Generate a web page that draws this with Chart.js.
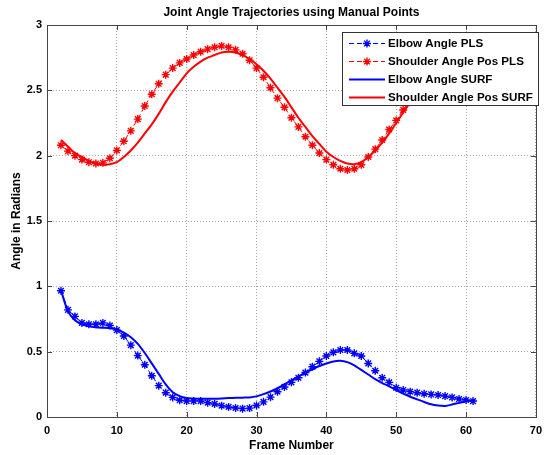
<!DOCTYPE html>
<html>
<head>
<meta charset="utf-8">
<script src="https://cdn.jsdelivr.net/npm/chart.js@4.4.1/dist/chart.umd.min.js"></script>
<style>
    html, body { margin: 0; padding: 0; background: #fff; }
    #wrap { width: 549px; height: 455px; }
</style>
</head>
<body>
<div id="wrap"><canvas id="angleChart" width="549" height="455"></canvas></div>
<script>
// frame numbers shared by all four series
const frames = [2, 3, 4, 5, 6, 7, 8, 9, 10, 11, 12, 13, 14, 15, 16, 17, 18, 19, 20, 21,
    22, 23, 24, 25, 26, 27, 28, 29, 30, 31, 32, 33, 34, 35, 36, 37, 38, 39, 40, 41,
    42, 43, 44, 45, 46, 47, 48, 49, 50, 51, 52, 53, 54, 55, 56, 57, 58, 59, 60, 61];

const elbowPLS = [0.966, 0.82, 0.77, 0.72, 0.71, 0.71, 0.72, 0.70, 0.665, 0.62,
    0.55, 0.47, 0.40, 0.316, 0.24, 0.186, 0.15, 0.128, 0.122, 0.122,
    0.122, 0.11, 0.10, 0.087, 0.077, 0.069, 0.064, 0.068, 0.088, 0.116,
    0.152, 0.193, 0.23, 0.265, 0.30, 0.34, 0.385, 0.426, 0.467, 0.495,
    0.513, 0.513, 0.487, 0.467, 0.41, 0.354, 0.30, 0.265, 0.224, 0.207,
    0.194, 0.186, 0.178, 0.173, 0.168, 0.16, 0.15, 0.138, 0.13, 0.122];

const shoulderPLS = [2.08, 2.035, 2.0, 1.97, 1.95, 1.94, 1.945, 1.98, 2.04, 2.11,
    2.19, 2.28, 2.38, 2.47, 2.55, 2.62, 2.67, 2.71, 2.74, 2.77,
    2.795, 2.815, 2.83, 2.84, 2.83, 2.81, 2.78, 2.73, 2.67, 2.60,
    2.52, 2.44, 2.37, 2.29, 2.22, 2.145, 2.08, 2.02, 1.97, 1.93,
    1.90, 1.89, 1.90, 1.93, 1.99, 2.05, 2.12, 2.20, 2.27, 2.35,
    2.43, 2.51, 2.58, 2.64, 2.69, 2.73, 2.76, 2.78, 2.79, 2.80];

const elbowSURF = [0.97, 0.81, 0.74, 0.71, 0.695, 0.687, 0.683, 0.68, 0.67, 0.645,
    0.61, 0.56, 0.49, 0.41, 0.33, 0.25, 0.19, 0.16, 0.145, 0.142,
    0.14, 0.14, 0.14, 0.142, 0.145, 0.147, 0.148, 0.15, 0.158, 0.175,
    0.195, 0.22, 0.25, 0.28, 0.31, 0.34, 0.365, 0.39, 0.41, 0.425,
    0.43, 0.42, 0.395, 0.36, 0.325, 0.29, 0.26, 0.235, 0.205, 0.18,
    0.155, 0.135, 0.115, 0.097, 0.088, 0.085, 0.095, 0.108, 0.12, 0.125];

const shoulderSURF = [2.12, 2.07, 2.02, 1.99, 1.96, 1.94, 1.93, 1.935, 1.95, 1.99,
    2.04, 2.10, 2.17, 2.24, 2.32, 2.41, 2.49, 2.56, 2.63, 2.68,
    2.72, 2.75, 2.77, 2.79, 2.795, 2.79, 2.77, 2.74, 2.70, 2.65,
    2.59, 2.52, 2.45, 2.37, 2.29, 2.22, 2.15, 2.09, 2.03, 1.99,
    1.96, 1.94, 1.935, 1.95, 1.99, 2.04, 2.10, 2.17, 2.25, 2.33,
    2.41, 2.49, 2.56, 2.62, 2.67, 2.71, 2.74, 2.76, 2.77, 2.78];

const xTicks = [0, 10, 20, 30, 40, 50, 60, 70];
const yTicks = [0, 0.5, 1, 1.5, 2, 2.5, 3];
const yTickLabels = ["0", "0.5", "1", "1.5", "2", "2.5", "3"];

const FONT = "'Liberation Sans', Arial, Helvetica, sans-serif";
const BLUE = "#0000ff";
const RED = "#ff0000";

const toPoints = (vals) => frames.map((f, i) => ({ x: f, y: vals[i] }));

const legendItems = [
    { label: "Elbow Angle PLS", color: BLUE, dashed: true },
    { label: "Shoulder Angle Pos PLS", color: RED, dashed: true },
    { label: "Elbow Angle SURF", color: BLUE, dashed: false },
    { label: "Shoulder Angle Pos SURF", color: RED, dashed: false },
];

function drawStar(ctx, x, y, r, color) {
    ctx.save();
    ctx.strokeStyle = color;
    ctx.lineWidth = 1.4;
    ctx.setLineDash([]);
    ctx.beginPath();
    ctx.moveTo(x - r, y); ctx.lineTo(x + r, y);
    ctx.moveTo(x, y - r); ctx.lineTo(x, y + r);
    const d = r * 0.72;
    ctx.moveTo(x - d, y - d); ctx.lineTo(x + d, y + d);
    ctx.moveTo(x - d, y + d); ctx.lineTo(x + d, y - d);
    ctx.stroke();
    ctx.restore();
}

// box, inward ticks and the matlab-like legend
const matlabFrame = {
    id: "matlabFrame",
    afterDatasetsDraw(chart) {
        const { ctx, chartArea: a, scales } = chart;
        ctx.save();
        ctx.strokeStyle = "#444";
        ctx.lineWidth = 1;
        ctx.setLineDash([]);
        ctx.beginPath();
        xTicks.forEach((t) => {
            const px = Math.round(scales.x.getPixelForValue(t)) + 0.5;
            ctx.moveTo(px, a.bottom); ctx.lineTo(px, a.bottom - 5);
            ctx.moveTo(px, a.top); ctx.lineTo(px, a.top + 5);
        });
        yTicks.forEach((t) => {
            const py = Math.round(scales.y.getPixelForValue(t)) + 0.5;
            ctx.moveTo(a.left, py); ctx.lineTo(a.left + 5, py);
            ctx.moveTo(a.right, py); ctx.lineTo(a.right - 5, py);
        });
        ctx.stroke();
        ctx.strokeRect(Math.round(a.left) + 0.5, Math.round(a.top) + 0.5,
            Math.round(a.right - a.left), Math.round(a.bottom - a.top));

        // legend
        const lx = 342, ly = 32, lw = 196, lh = 73;
        ctx.fillStyle = "#fff";
        ctx.fillRect(lx, ly, lw, lh);
        ctx.strokeStyle = "#333";
        ctx.strokeRect(lx + 0.5, ly + 0.5, lw, lh);
        ctx.font = "bold 11.6px " + FONT;
        ctx.textBaseline = "middle";
        ctx.textAlign = "left";
        legendItems.forEach((item, i) => {
            const y = 43.5 + i * 18;
            ctx.strokeStyle = item.color;
            if (item.dashed) {
                ctx.lineWidth = 1.2;
                ctx.setLineDash([5, 3]);
            } else {
                ctx.lineWidth = 2;
                ctx.setLineDash([]);
            }
            ctx.beginPath();
            ctx.moveTo(349, y); ctx.lineTo(385, y);
            ctx.stroke();
            ctx.setLineDash([]);
            if (item.dashed) {
                drawStar(ctx, 367, y, 4, item.color);
            }
            ctx.fillStyle = "#000";
            ctx.fillText(item.label, 388, y);
        });
        ctx.restore();
    },
};

new Chart(document.getElementById("angleChart"), {
    type: "line",
    data: {
        datasets: [
            {
                label: "Elbow Angle PLS",
                data: toPoints(elbowPLS),
                borderColor: BLUE,
                backgroundColor: BLUE,
                borderWidth: 1,
                borderDash: [5, 3],
                pointStyle: "star",
                pointRadius: 4,
                pointBorderWidth: 1.4,
                pointBorderColor: BLUE,
                order: 2,
            },
            {
                label: "Shoulder Angle Pos PLS",
                data: toPoints(shoulderPLS),
                borderColor: RED,
                backgroundColor: RED,
                borderWidth: 1,
                borderDash: [5, 3],
                pointStyle: "star",
                pointRadius: 4,
                pointBorderWidth: 1.4,
                pointBorderColor: RED,
                order: 2,
            },
            {
                label: "Elbow Angle SURF",
                data: toPoints(elbowSURF),
                borderColor: BLUE,
                borderWidth: 2,
                pointRadius: 0,
                tension: 0.3,
                order: 1,
            },
            {
                label: "Shoulder Angle Pos SURF",
                data: toPoints(shoulderSURF),
                borderColor: RED,
                borderWidth: 2,
                pointRadius: 0,
                tension: 0.3,
                order: 0,
            },
        ],
    },
    options: {
        responsive: false,
        animation: false,
        events: [],
        layout: {
            padding: { left: 0, right: 7, top: 0, bottom: 0 },
        },
        plugins: {
            legend: { display: false },
            tooltip: { enabled: false },
            title: {
                display: true,
                text: "Joint Angle Trajectories using Manual Points",
                color: "#000",
                fullSize: false,
                font: { family: FONT, size: 12, weight: "bold", lineHeight: 1.2 },
                padding: { top: 5.8, bottom: 4.8 },
            },
        },
        scales: {
            x: {
                type: "linear",
                min: 0,
                max: 70,
                afterFit: (scale) => { scale.height = 38; },
                afterBuildTicks: (scale) => { scale.ticks = xTicks.map((v) => ({ value: v })); },
                ticks: {
                    color: "#000",
                    padding: 7,
                    maxRotation: 0,
                    font: { family: FONT, size: 11, weight: "bold" },
                    callback: (v) => String(v),
                },
                grid: { color: "#a8a8a8", drawTicks: false },
                border: { display: false, dash: [1, 2] },
                title: {
                    display: true,
                    text: "Frame Number",
                    color: "#000",
                    font: { family: FONT, size: 12, weight: "bold", lineHeight: 1.2 },
                    padding: { top: 0, bottom: 2.3 },
                },
            },
            y: {
                type: "linear",
                min: 0,
                max: 3,
                afterFit: (scale) => { scale.width = 47; },
                afterBuildTicks: (scale) => { scale.ticks = yTicks.map((v) => ({ value: v })); },
                ticks: {
                    color: "#000",
                    padding: 5,
                    font: { family: FONT, size: 11, weight: "bold" },
                    callback: (v) => yTickLabels[yTicks.indexOf(v)] ?? String(v),
                },
                grid: { color: "#a8a8a8", drawTicks: false },
                border: { display: false, dash: [1, 2] },
                title: {
                    display: true,
                    text: "Angle in Radians",
                    color: "#000",
                    font: { family: FONT, size: 12, weight: "bold", lineHeight: 1.2 },
                    padding: { top: 9.5, bottom: 0 },
                },
            },
        },
    },
    plugins: [matlabFrame],
});
</script>
</body>
</html>
